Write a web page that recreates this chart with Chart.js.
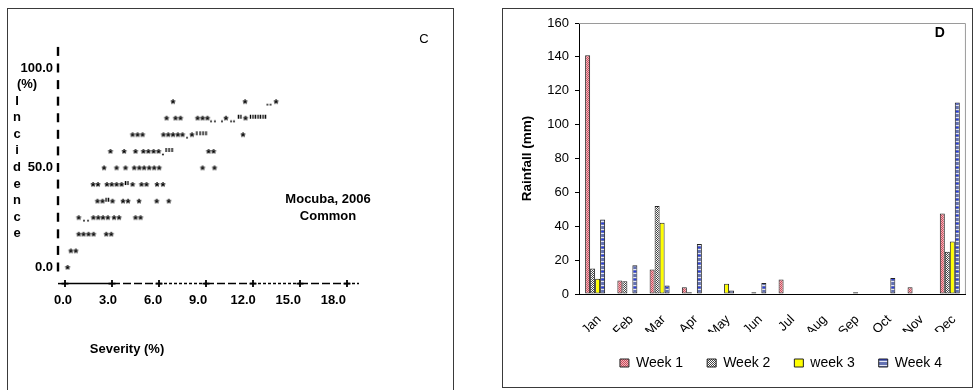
<!DOCTYPE html>
<html>
<head>
<meta charset="utf-8">
<script src="https://cdn.jsdelivr.net/npm/chart.js@4.4.1/dist/chart.umd.min.js"></script>
<style>
  body { margin: 0; background: #fff; width: 973px; height: 390px; overflow: hidden; position: relative; }
  .frame { position: absolute; border: 1.5px solid #3a3a3a; box-sizing: border-box; }
  canvas { position: absolute; }
</style>
</head>
<body>
<div class="frame" style="left:7px;top:8px;width:447px;height:384px"></div>
<div class="frame" style="left:502px;top:8px;width:471px;height:380px"></div>
<canvas id="scatterC" width="444" height="378" style="left:8px;top:9px"></canvas>
<canvas id="rainD" width="468" height="377" style="left:503px;top:9px"></canvas>
<script>
const FONT = '"Liberation Sans", Arial, sans-serif';
Chart.defaults.font.family = FONT;
Chart.defaults.color = '#000';

// ---- panel C: incidence vs severity (line-printer style plot)
const incidenceRows = [0, 8.3, 16.7, 25, 33.3, 41.7, 50, 58.3, 66.7, 75, 83.3];
const starSeverity = [
  [0.16],
  [0.37, 0.69],
  [0.87, 1.18, 1.5, 1.82, 2.63, 2.95],
  [0.87, 1.81, 2.12, 2.42, 2.73, 3.13, 3.45, 4.5, 4.82],
  [2.07, 2.39, 3.03, 3.7, 4.02, 4.72, 5.85, 6.62],
  [1.79, 2.1, 2.67, 2.98, 3.29, 3.61, 4.31, 4.88, 5.2, 5.87, 6.25],
  [2.49, 3.29, 3.86, 4.42, 4.74, 5.05, 5.37, 5.69, 6.01, 8.78, 9.54],
  [2.9, 3.77, 4.5, 5.0, 5.32, 5.65, 5.97, 9.16, 9.48],
  [4.31, 4.63, 4.95, 6.28, 6.59, 6.89, 7.2, 7.5, 8.1, 11.36],
  [6.48, 7.05, 7.37, 8.46, 8.78, 9.09, 10.27, 11.52],
  [6.89, 11.49, 13.47]
];
const dotSeverity = [[], [], [], [1.21, 1.47], [], [], [], [6.25], [7.79], [9.32, 9.57, 10.02, 10.6, 10.79], [12.92, 13.12]];
const tickSeverity = [[], [], [], [], [2.62, 2.78], [3.86, 4.02], [], [6.45, 6.64, 6.83], [8.42, 8.62, 8.81, 9.0],
  [11.07, 11.23, 11.84, 12.0, 12.16, 12.32, 12.48, 12.64, 12.8], []];
const severityTicks = [0, 3, 6, 9, 12, 15, 18];
const incidenceTicks = [0, 50, 100];

function toPoints(rows) {
  const pts = [];
  rows.forEach((row, i) => row.forEach(x => pts.push({ x: x, y: incidenceRows[i] })));
  return pts;
}

function glyph(w, h, draw) {
  const c = document.createElement('canvas');
  c.width = w; c.height = h;
  draw(c.getContext('2d'));
  return c;
}

const starGlyph = glyph(8, 8, g => {
  g.font = 'bold 13px ' + FONT; g.textAlign = 'center'; g.fillStyle = '#000';
  g.fillText('*', 4, 11.2);
});
const dotGlyph = glyph(4, 10, g => {
  g.fillStyle = '#000'; g.beginPath(); g.arc(2, 8.5, 0.9, 0, Math.PI * 2); g.fill();
});
const quoteGlyph = glyph(3, 10, g => {
  g.fillStyle = '#000'; g.fillRect(0.8, 2, 1.4, 4);
});

const asciiAxes = {
  id: 'asciiAxes',
  afterDraw(chart) {
    const { ctx, scales: { x, y } } = chart;
    const row = 100 / 12;
    ctx.save();
    ctx.fillStyle = '#000';
    ctx.strokeStyle = '#000';
    ctx.textBaseline = 'middle';

    // vertical axis made of I marks
    const axisX = x.left - 7;
    for (let k = 0; k <= 13; k++) ctx.fillRect(axisX - 1.2, y.getPixelForValue(k * row) - 4.5, 2.4, 9);

    ctx.font = 'bold 13px ' + FONT;
    ctx.textAlign = 'right';
    incidenceTicks.forEach(v => ctx.fillText(v.toFixed(1), axisX - 5, y.getPixelForValue(v)));
    ctx.textAlign = 'center';
    ctx.fillText('(%)', 19, y.getPixelForValue(100 - row));
    'Incidence'.split('').forEach((ch, i) => ctx.fillText(ch, 9, y.getPixelForValue((10 - i) * row)));

    // horizontal axis  -+----+----+
    const baseY = y.getPixelForValue(-row);
    const dashes = [[], [8, 3], [3, 2], [8, 3], [3, 2], [8, 3]];
    ctx.lineWidth = 1.5;
    const seg = (a, b, d) => {
      ctx.setLineDash(d);
      ctx.beginPath(); ctx.moveTo(a, baseY); ctx.lineTo(b, baseY); ctx.stroke();
    };
    seg(x.left - 7, x.left, []);
    for (let i = 1; i < severityTicks.length; i++) {
      seg(x.getPixelForValue(severityTicks[i - 1]), x.getPixelForValue(severityTicks[i]), dashes[i - 1]);
    }
    const last = x.getPixelForValue(severityTicks[severityTicks.length - 1]);
    seg(last, last + 12, [3, 2]);
    ctx.setLineDash([]);
    ctx.lineWidth = 1.8;
    severityTicks.forEach(v => {
      const px = x.getPixelForValue(v);
      ctx.beginPath();
      ctx.moveTo(px, baseY - 3.5); ctx.lineTo(px, baseY + 3.5);
      ctx.moveTo(px - 3.5, baseY); ctx.lineTo(px + 3.5, baseY);
      ctx.stroke();
    });
    severityTicks.forEach(v => ctx.fillText(v.toFixed(1), x.getPixelForValue(v) - 2 - v * 0.65, baseY + 16.5));

    ctx.fillText('Severity (%)', 119, 340);
    ctx.fillText('Mocuba, 2006', 320, 190);
    ctx.fillText('Common', 320, 207);
    ctx.font = '13px ' + FONT;
    ctx.fillText('C', 416, 30);
    ctx.restore();
  }
};

new Chart(document.getElementById('scatterC'), {
  type: 'scatter',
  data: {
    datasets: [
      { data: toPoints(starSeverity), pointStyle: starGlyph, clip: false },
      { data: toPoints(dotSeverity), pointStyle: dotGlyph, clip: false },
      { data: toPoints(tickSeverity), pointStyle: quoteGlyph, clip: false }
    ]
  },
  options: {
    responsive: false,
    animation: false,
    layout: { padding: { left: 57, right: 105, top: 59, bottom: 120 } },
    plugins: { legend: { display: false }, tooltip: { enabled: false } },
    scales: {
      x: { display: false, min: 0, max: 18 },
      y: { display: false, min: 0, max: 100 }
    }
  },
  plugins: [asciiAxes]
});

// ---- panel D: weekly rainfall
const months = ['Jan', 'Feb', 'Mar', 'Apr', 'May', 'Jun', 'Jul', 'Aug', 'Sep', 'Oct', 'Nov', 'Dec'];
const week1 = [141, 8, 14.5, 4, 0, 0, 8.5, 0, 0, 0, 4, 47.5];
const week2 = [15, 7.5, 52, 1, 0, 1, 0, 0, 0, 0, 0, 25];
const week3 = [9, 0, 42, 0, 6, 0, 0, 0, 1, 0, 0, 31];
const week4 = [44, 17, 5, 29.5, 2, 6.5, 0, 0, 0, 9.5, 0, 113];

function pattern(w, h, draw) {
  return document.createElement('canvas').getContext('2d').createPattern(glyph(w, h, draw), 'repeat');
}
const pinkHatch = pattern(2, 2, g => {
  g.fillStyle = '#f0b4ba'; g.fillRect(0, 0, 2, 2);
  g.fillStyle = '#cc4c5c'; g.fillRect(0, 0, 1, 1); g.fillRect(1, 1, 1, 1);
});
const greyCheck = pattern(2, 2, g => {
  g.fillStyle = '#ffffff'; g.fillRect(0, 0, 2, 2);
  g.fillStyle = '#444444'; g.fillRect(0, 0, 1, 1); g.fillRect(1, 1, 1, 1);
});
const blueStripe = pattern(1, 8, g => {
  g.fillStyle = '#6472b2'; g.fillRect(0, 0, 1, 8);
  g.fillStyle = '#e4e6f4'; g.fillRect(0, 0, 1, 1); g.fillRect(0, 4, 1, 1);
  g.fillStyle = '#2c3ee0'; g.fillRect(0, 6, 1, 1);
});

const plotFrame = {
  id: 'plotFrame',
  beforeDatasetsDraw(chart) {
    const { ctx, chartArea: a } = chart;
    ctx.save();
    ctx.strokeStyle = '#9a9a9a';
    ctx.lineWidth = 1;
    ctx.beginPath();
    ctx.moveTo(a.left, a.top + 0.5);
    ctx.lineTo(a.right - 0.5, a.top + 0.5);
    ctx.lineTo(a.right - 0.5, a.bottom);
    ctx.stroke();
    ctx.restore();
  },
  afterDraw(chart) {
    const { ctx, chartArea: a } = chart;
    ctx.save();
    ctx.font = 'bold 14px ' + FONT;
    ctx.fillStyle = '#000';
    ctx.textAlign = 'center';
    ctx.textBaseline = 'middle';
    ctx.fillText('D', a.right - 26, a.top + 10);
    ctx.restore();
  }
};

new Chart(document.getElementById('rainD'), {
  type: 'bar',
  data: {
    labels: months,
    datasets: [
      { label: 'Week 1', data: week1, backgroundColor: pinkHatch },
      { label: 'Week 2', data: week2, backgroundColor: greyCheck },
      { label: 'week 3', data: week3, backgroundColor: '#ffff00' },
      { label: 'Week 4', data: week4, backgroundColor: blueStripe }
    ]
  },
  options: {
    responsive: false,
    animation: false,
    layout: { padding: { left: 0, right: 4, top: 14, bottom: 6 } },
    datasets: {
      bar: { borderColor: '#222', borderWidth: 1, borderSkipped: false, categoryPercentage: 0.62, barPercentage: 1 }
    },
    plugins: {
      tooltip: { enabled: false },
      legend: {
        position: 'bottom',
        align: 'end',
        fullSize: false,
        labels: { boxWidth: 9, boxHeight: 8, padding: 24, color: '#000', font: { size: 14 } }
      }
    },
    scales: {
      x: {
        grid: { display: false },
        border: { color: '#000', width: 1 },
        ticks: { minRotation: 45, maxRotation: 45, padding: 10, labelOffset: 4, font: { size: 13 } },
        afterFit: s => { s.height = 38; }
      },
      y: {
        min: 0, max: 160,
        ticks: { stepSize: 20, padding: 6, font: { size: 13 } },
        grid: { drawOnChartArea: false, tickLength: 4, color: '#000' },
        border: { color: '#000', width: 1 },
        title: { display: true, text: 'Rainfall (mm)', font: { size: 13.5, weight: 'bold' }, padding: { top: 16, bottom: 0 } },
        afterFit: s => { s.width = 76; }
      }
    }
  },
  plugins: [plotFrame]
});
</script>
</body>
</html>
